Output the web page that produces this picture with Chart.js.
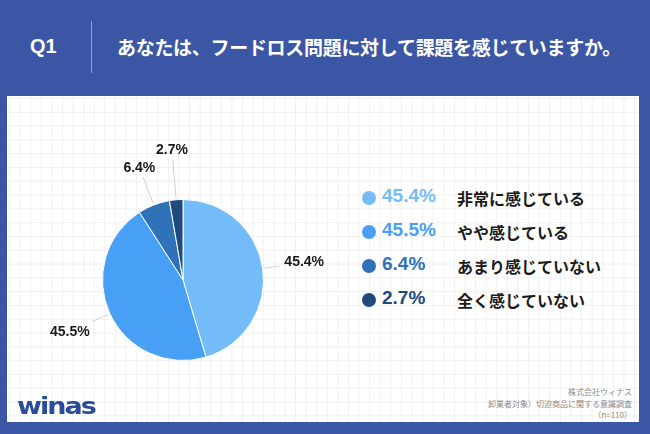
<!DOCTYPE html>
<html lang="ja">
<head>
<meta charset="utf-8">
<script src="https://cdn.jsdelivr.net/npm/chart.js@4.4.0/dist/chart.umd.min.js"></script>
<style>
    html, body {
        margin: 0;
        padding: 0;
    }
    body {
        width: 650px;
        height: 434px;
        background: #3b56a4;
        position: relative;
        overflow: hidden;
        font-family: "Noto Sans CJK JP", "Noto Sans", sans-serif;
    }
    .q {
        position: absolute;
        left: 30px;
        top: 35px;
        color: #fff;
        font: bold 20px "Liberation Sans", sans-serif;
    }
    .divider {
        position: absolute;
        left: 91px;
        top: 21px;
        width: 1px;
        height: 52px;
        background: #8e9fcf;
    }
    .title {
        position: absolute;
        left: 117px;
        top: 33px;
        color: #fff;
        font-weight: bold;
        font-size: 19px;
        letter-spacing: -0.3px;
        white-space: nowrap;
    }
    .panel {
        position: absolute;
        left: 7px;
        top: 96px;
        width: 632px;
        height: 326px;
        background-color: #fff;
        background-image:
            linear-gradient(to right, #f0f0f0 1px, transparent 1px),
            linear-gradient(to bottom, #f0f0f0 1px, transparent 1px);
        background-size: 10.6px 13.8px;
        background-position: 2px 2px;
    }
    #wrap {
        position: absolute;
        left: 23px;
        top: 120px;
        width: 320px;
        height: 320px;
    }
    .legend {
        position: absolute;
        left: 360px;
        top: 186px;
    }
    .legend .row {
        position: relative;
        height: 34px;
    }
    .legend .dot {
        position: absolute;
        left: 2px;
        top: 5px;
        width: 14px;
        height: 14px;
        border-radius: 50%;
    }
    .legend .pct {
        position: absolute;
        left: 22px;
        top: -1px;
        font: bold 19px "Liberation Sans", sans-serif;
    }
    .legend .lbl {
        position: absolute;
        left: 97px;
        top: 0;
        font-weight: bold;
        font-size: 16px;
        color: #1a1a1a;
        white-space: nowrap;
    }
    .logo {
        position: absolute;
        left: 17px;
        top: 390px;
        color: #2b4c9c;
        font: bold 27px "DejaVu Sans", sans-serif;
        letter-spacing: -2px;
        transform: scaleY(0.85);
    }
    .source {
        position: absolute;
        right: 18px;
        top: 386px;
        text-align: right;
        color: #8a8a8a;
        font-size: 8px;
        line-height: 11.5px;
    }
</style>
</head>
<body>
<div class="q">Q1</div>
<div class="divider"></div>
<div class="title">あなたは、フードロス問題に対して課題を感じていますか。</div>
<div class="panel"></div>
<div id="wrap"><canvas id="pie"></canvas></div>
<div class="legend" id="legend"></div>
<div class="logo">winas</div>
<div class="source">株式会社ウィナス<br>卸業者対象）切迫商品に関する意識調査<br>（n=110）</div>

<script>
const categories = ["非常に感じている", "やや感じている", "あまり感じていない", "全く感じていない"];
const values = [45.4, 45.5, 6.4, 2.7];
const colors = ["#74bcf8", "#48a0f6", "#2f72b8", "#1f4a7d"];

// legend
const legend = document.getElementById("legend");
categories.forEach((name, i) => {
    legend.innerHTML += `<div class="row">
        <span class="dot" style="background:${colors[i]}"></span>
        <span class="pct" style="color:${colors[i]}">${values[i].toFixed(1)}%</span>
        <span class="lbl">${name}</span>
    </div>`;
});

// outside labels with leader lines
const outLabels = {
    id: "outLabels",
    afterDatasetsDraw(chart, args, opts) {
        const ctx = chart.ctx;
        const arcs = chart.getDatasetMeta(0).data;
        ctx.save();
        ctx.font = "bold 14px 'Liberation Sans', sans-serif";
        ctx.fillStyle = "#1a1a1a";
        ctx.textAlign = "center";
        ctx.textBaseline = "middle";
        arcs.forEach((arc, i) => {
            const mid = (arc.startAngle + arc.endAngle) / 2;
            const r = arc.outerRadius;
            const cos = Math.cos(mid);
            const sin = Math.sin(mid);
            ctx.strokeStyle = "#cfcfcf";
            ctx.lineWidth = 1;
            ctx.beginPath();
            ctx.moveTo(arc.x + cos * (r + 2), arc.y + sin * (r + 2));
            ctx.lineTo(arc.x + cos * (r + opts.line[i]), arc.y + sin * (r + opts.line[i]));
            ctx.stroke();
            ctx.fillText(
                values[i].toFixed(1) + "%",
                arc.x + cos * (r + opts.text[i]),
                arc.y + sin * (r + opts.text[i])
            );
        });
        ctx.restore();
    },
};

new Chart(document.getElementById("pie"), {
    type: "pie",
    data: {
        labels: categories,
        datasets: [
            {
                data: values,
                backgroundColor: colors,
                borderColor: "#ffffff",
                borderWidth: 1,
            },
        ],
    },
    options: {
        responsive: true,
        maintainAspectRatio: false,
        animation: false,
        layout: { padding: 79 },
        plugins: {
            legend: { display: false },
            tooltip: { enabled: false },
            outLabels: {
                line: [17, 19, 30, 40],
                text: [42, 44, 40, 50],
            },
        },
    },
    plugins: [outLabels],
});
</script>
</body>
</html>
